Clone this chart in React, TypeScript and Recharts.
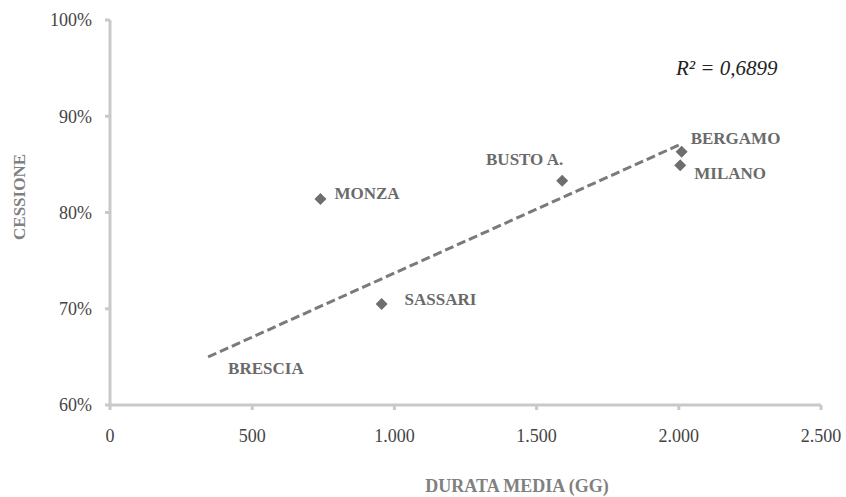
import React from 'react';
import { ScatterChart, Scatter, XAxis, YAxis, ReferenceLine } from 'recharts';

const cities = ['BRESCIA', 'MONZA', 'SASSARI', 'BUSTO A.', 'BERGAMO', 'MILANO'];
const durata = [345, 740, 955, 1590, 2010, 2005];
const cessione = [0.577, 0.814, 0.705, 0.833, 0.863, 0.849];
const xTicks = [0, 500, 1000, 1500, 2000, 2500];
const yTicks = [0.6, 0.7, 0.8, 0.9, 1.0];
const r2Label = 'R² = 0,6899';

const data = cities.map((name, i) => ({ name, x: durata[i], y: cessione[i] }));

// least-squares linear trendline
const n = durata.length;
const mx = durata.reduce((a, b) => a + b, 0) / n;
const my = cessione.reduce((a, b) => a + b, 0) / n;
let sxy = 0;
let sxx = 0;
for (let i = 0; i < n; i++) {
  sxy += (durata[i] - mx) * (cessione[i] - my);
  sxx += (durata[i] - mx) * (durata[i] - mx);
}
const slope = sxy / sxx;
const intercept = my - slope * mx;
const xMin = Math.min(...durata);
const xMax = Math.max(...durata);

const FONT = "'Liberation Serif', 'Times New Roman', Tinos, 'DejaVu Serif', 'Noto Serif', Times, serif";

const labelOffsets: Record<string, [number, number, string]> = {
  BRESCIA: [20, -59, 'start'],
  MONZA: [14, -6, 'start'],
  SASSARI: [23, -4, 'start'],
  'BUSTO A.': [1, -21, 'end'],
  BERGAMO: [9, -13, 'start'],
  MILANO: [14, 8, 'start'],
};

const fmtX = (v: number) => v.toLocaleString('de-DE');
const fmtY = (v: number) => `${Math.round(v * 100)}%`;

const Marker = (props: any) => {
  const { cx, cy, payload } = props;
  const r = 6;
  const off = labelOffsets[payload.name] || [10, 0, 'start'];
  return (
    <g>
      <path
        d={`M${cx},${cy - r}L${cx + r},${cy}L${cx},${cy + r}L${cx - r},${cy}Z`}
        fill="#6e6e6e"
      />
      <text
        x={cx + off[0]}
        y={cy + off[1]}
        textAnchor={off[2] as any}
        dominantBaseline="central"
        style={{ fontFamily: FONT }}
        fontWeight="bold"
        fontSize={17}
        fill="#6a6a6a"
      >
        {payload.name}
      </text>
    </g>
  );
};

export default function App() {
  return (
    <div style={{ position: 'absolute', left: 0, top: 0, background: '#fff', fontFamily: FONT }}>
      <ScatterChart
        width={846}
        height={497}
        margin={{ top: 20, right: 25, bottom: 52, left: 0 }}
        style={{ fontFamily: FONT }}
      >
        <XAxis
          type="number"
          dataKey="x"
          domain={[0, 2500]}
          ticks={xTicks}
          tickFormatter={fmtX}
          height={40}
          tickSize={5}
          tickMargin={19}
          axisLine={{ stroke: '#c9c9c9', strokeWidth: 3 }}
          tickLine={{ stroke: '#c9c9c9', strokeWidth: 3 }}
          tick={{ fontFamily: FONT, fontSize: 18, fill: '#444' }}
        />
        <YAxis
          type="number"
          dataKey="y"
          domain={[0.6, 1]}
          allowDataOverflow
          ticks={yTicks}
          tickFormatter={fmtY}
          width={110}
          tickSize={5}
          tickMargin={13}
          axisLine={{ stroke: '#c9c9c9', strokeWidth: 3 }}
          tickLine={{ stroke: '#c9c9c9', strokeWidth: 3 }}
          tick={{ fontFamily: FONT, fontSize: 18, fill: '#444' }}
        />
        <ReferenceLine
          segment={[
            { x: xMin, y: intercept + slope * xMin },
            { x: xMax, y: intercept + slope * xMax },
          ]}
          stroke="#7a7a7a"
          strokeWidth={3}
          strokeDasharray="9 4"
          ifOverflow="visible"
        />
        <Scatter data={data} shape={Marker} isAnimationActive={false} />
        <text
          x={676}
          y={68}
          dominantBaseline="central"
          style={{ fontFamily: FONT }}
          fontStyle="italic"
          fontSize={21}
          fill="#222"
        >
          {r2Label}
        </text>
        <text
          x={517}
          y={486}
          textAnchor="middle"
          dominantBaseline="central"
          style={{ fontFamily: FONT }}
          fontWeight="bold"
          fontSize={18}
          fill="#808080"
        >
          DURATA MEDIA (GG)
        </text>
        <text
          x={19}
          y={197}
          textAnchor="middle"
          dominantBaseline="central"
          transform="rotate(-90 19 197)"
          style={{ fontFamily: FONT }}
          fontWeight="bold"
          fontSize={17}
          fill="#808080"
        >
          CESSIONE
        </text>
      </ScatterChart>
    </div>
  );
}
